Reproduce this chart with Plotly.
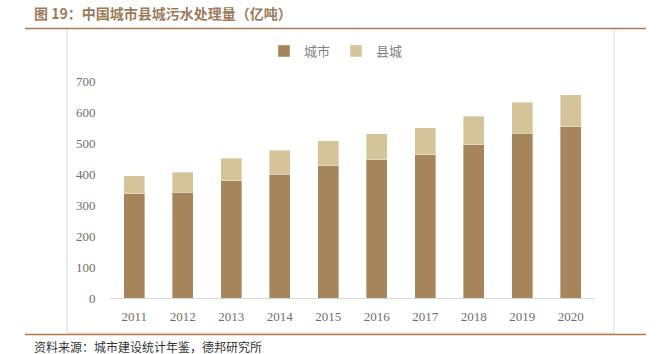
import plotly.graph_objects as go

years = ["2011", "2012", "2013", "2014", "2015", "2016", "2017", "2018", "2019", "2020"]
urban = [336, 341, 378, 399, 427, 446, 462, 494, 532, 553]
county = [58, 64, 73, 77, 81, 84, 88, 93, 100, 103]
y_ticks = [0, 100, 200, 300, 400, 500, 600, 700]

W, H = 663, 354
L, R, T, B = 110, 68, 81, 56
pw, ph = W - L - R, H - T - B

def px(x):
    return (x - L) / pw

def py(y):
    return (H - B - y) / ph

URBAN_C = "#A6845C"
COUNTY_C = "#D5C39A"
serif = "Liberation Serif, Times New Roman, serif"
cjk = "Noto Sans CJK SC, sans-serif"

fig = go.Figure()
fig.add_trace(go.Bar(x=years, y=urban, name="城市", marker=dict(color=URBAN_C, line=dict(color="rgba(255,255,255,0.6)", width=0.6))))
fig.add_trace(go.Bar(x=years, y=county, name="县城", marker=dict(color=COUNTY_C, line=dict(color="rgba(255,255,255,0.6)", width=0.6))))

fig.update_layout(
    barmode="stack",
    bargap=0.57,
    width=W, height=H,
    margin=dict(l=L, r=R, t=T, b=B),
    paper_bgcolor="white",
    plot_bgcolor="white",
    showlegend=True,
    legend=dict(orientation="h", x=px(336), y=py(51), xanchor="center", yanchor="middle",
                font=dict(family=cjk, size=13, color="#7f7f7f"),
                entrywidth=27, entrywidthmode="pixels",
                traceorder="normal", bgcolor="rgba(0,0,0,0)"),
    xaxis=dict(range=[-0.5, 9.5], showline=True, linecolor="#d9d9d9", linewidth=1,
               ticks="outside", ticklen=6, tickcolor="rgba(0,0,0,0)",
               tickfont=dict(family=serif, size=13, color="#6e6e6e"), showgrid=False),
    yaxis=dict(range=[0, 700], tickvals=y_ticks, showgrid=False, zeroline=False, showline=False,
               ticks="outside", ticklen=11, tickcolor="rgba(0,0,0,0)",
               tickfont=dict(family=serif, size=13, color="#6e6e6e")),
    font=dict(family=serif),
)

shapes = []
# chart frame
shapes.append(dict(type="rect", xref="paper", yref="paper", x0=px(67), x1=px(614), y0=py(333), y1=py(28.5),
                   line=dict(color="#d9d9d9", width=1), fillcolor="rgba(0,0,0,0)", layer="below"))
# title rule
shapes.append(dict(type="line", xref="paper", yref="paper", x0=px(25), x1=px(646), y0=py(28.5), y1=py(28.5),
                   line=dict(color="#B07A4F", width=1.5)))
# bottom rule
shapes.append(dict(type="line", xref="paper", yref="paper", x0=px(25), x1=px(646), y0=py(334.5), y1=py(334.5),
                   line=dict(color="#B07A4F", width=1.5)))
fig.update_layout(shapes=shapes)

fig.add_annotation(text="<b>图 19：中国城市县城污水处理量（亿吨）</b>", xref="paper", yref="paper",
                   x=px(32), y=py(13), xanchor="left", yanchor="middle", showarrow=False,
                   font=dict(family=cjk, size=14, color="#9C7B5A"))
fig.add_annotation(text="资料来源：城市建设统计年鉴，德邦研究所", xref="paper", yref="paper",
                   x=px(32), y=py(346), xanchor="left", yanchor="middle", showarrow=False,
                   font=dict(family=cjk, size=12, color="#333333"))

fig.write_html("out.html")
